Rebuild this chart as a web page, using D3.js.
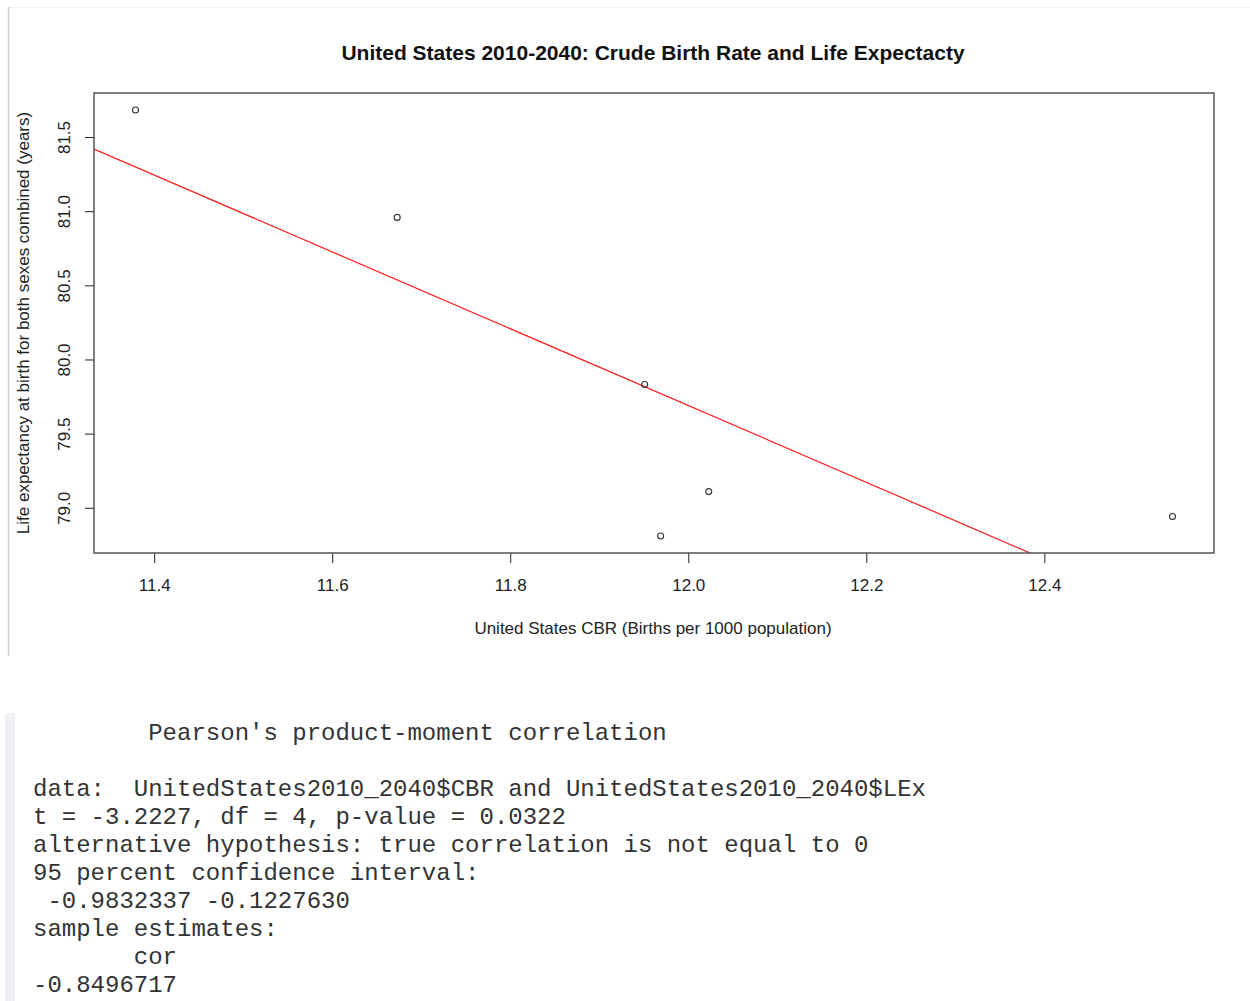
<!DOCTYPE html>
<html><head><meta charset="utf-8">
<script src="https://cdn.jsdelivr.net/npm/d3@7"></script>
<style>
html,body{margin:0;padding:0;background:#fff;}
svg{display:block;}
</style></head>
<body>
<script>
// ---- data ----
const cbr = [11.379, 11.673, 11.951, 12.023, 11.969, 12.544];   // United States CBR
const lex = [81.682, 80.958, 79.831, 79.109, 78.810, 78.941];   // Life expectancy
const xTicks = [11.4, 11.6, 11.8, 12.0, 12.2, 12.4];
const yTicks = [79.0, 79.5, 80.0, 80.5, 81.0, 81.5];
const title = "United States 2010-2040: Crude Birth Rate and Life Expectacty";
const xLabel = "United States CBR (Births per 1000 population)";
const yLabel = "Life expectancy at birth for both sexes combined (years)";
const consoleLines = [
  "        Pearson's product-moment correlation",
  "",
  "data:  UnitedStates2010_2040$CBR and UnitedStates2010_2040$LEx",
  "t = -3.2227, df = 4, p-value = 0.0322",
  "alternative hypothesis: true correlation is not equal to 0",
  "95 percent confidence interval:",
  " -0.9832337 -0.1227630",
  "sample estimates:",
  "       cor",
  "-0.8496717"
];

const W = 1250, H = 1001;
const svg = d3.select("body").append("svg").attr("width", W).attr("height", H);

// outer frame of plot image
svg.append("line").attr("x1", 9).attr("x2", W).attr("y1", 7.5).attr("y2", 7.5)
  .attr("stroke", "#f0f0f0").attr("stroke-width", 1);
svg.append("line").attr("x1", 8.5).attr("x2", 8.5).attr("y1", 7).attr("y2", 656)
  .attr("stroke", "#cfcfcf").attr("stroke-width", 1.5);

const L = 94, R = 1214, T = 93, B = 553;
// R-style 4% axis extension
function ext(a){ const lo=d3.min(a), hi=d3.max(a), d=(hi-lo)*0.04; return [lo-d, hi+d]; }
const x = d3.scaleLinear().domain(ext(cbr)).range([L, R]);
const y = d3.scaleLinear().domain(ext(lex)).range([B, T]);

const font = "'Liberation Sans', Arial, sans-serif";
const fs = 17;

// title
svg.append("text").attr("x", (L+R)/2 - 1).attr("y", 52).attr("text-anchor", "middle")
  .attr("dominant-baseline", "central")
  .attr("font-family", font).attr("font-weight", "bold").attr("font-size", 21)
  .attr("fill", "#111").text(title);

// x axis
const xAxis = svg.append("g").attr("transform", `translate(0,${B})`)
  .call(d3.axisBottom(x).tickValues(xTicks).tickFormat(d3.format(".1f")).tickSize(10));
xAxis.select(".domain").remove();
xAxis.selectAll("line").attr("stroke", "#222");
xAxis.selectAll("text").attr("font-family", font).attr("font-size", fs).attr("fill", "#222")
  .attr("y", 585 - B).attr("dy", null).attr("dominant-baseline", "central");

// y axis
const yAxis = svg.append("g").attr("transform", `translate(${L},0)`)
  .call(d3.axisLeft(y).tickValues(yTicks).tickFormat(d3.format(".1f")).tickSize(9));
yAxis.select(".domain").remove();
yAxis.selectAll("line").attr("stroke", "#222");
yAxis.selectAll("text")
  .attr("font-family", font).attr("font-size", fs).attr("fill", "#222")
  .attr("text-anchor", "middle").attr("dy", null).attr("x", null)
  .attr("dominant-baseline", "central")
  .attr("transform", `translate(${64-L},0) rotate(-90)`);

// axis titles
svg.append("text").attr("x", (L+R)/2 - 1).attr("y", 628).attr("text-anchor", "middle")
  .attr("dominant-baseline", "central")
  .attr("font-family", font).attr("font-size", fs).attr("fill", "#222").text(xLabel);
svg.append("text").attr("transform", `translate(23,${(T+B)/2}) rotate(-90)`)
  .attr("text-anchor", "middle").attr("dominant-baseline", "central")
  .attr("font-family", font).attr("font-size", fs).attr("fill", "#222").text(yLabel);

// clip for regression line
svg.append("clipPath").attr("id", "plotclip").append("rect")
  .attr("x", L).attr("y", T).attr("width", R-L).attr("height", B-T);

// least-squares regression line (abline(lm))
const mx = d3.mean(cbr), my = d3.mean(lex);
const sxy = d3.sum(cbr, (v,i) => (v-mx)*(lex[i]-my));
const sxx = d3.sum(cbr, v => (v-mx)*(v-mx));
const slope = sxy/sxx, icpt = my - slope*mx;
const [x0, x1] = x.domain();
svg.append("line").attr("clip-path", "url(#plotclip)")
  .attr("x1", x(x0)).attr("y1", y(icpt + slope*x0))
  .attr("x2", x(x1)).attr("y2", y(icpt + slope*x1))
  .attr("stroke", "#ff1a1a").attr("stroke-width", 1.2);

// points
svg.append("g").selectAll("circle").data(cbr).join("circle")
  .attr("cx", d => x(d)).attr("cy", (d,i) => y(lex[i])).attr("r", 3)
  .attr("fill", "none").attr("stroke", "#333").attr("stroke-width", 1.1);

// box
svg.append("rect").attr("x", L).attr("y", T).attr("width", R-L).attr("height", B-T)
  .attr("fill", "none").attr("stroke", "#555").attr("stroke-width", 1.5);

// console panel
svg.append("rect").attr("x", 5).attr("y", 713).attr("width", 10).attr("height", H-713)
  .attr("fill", "#eef0f3");
const mono = "'Liberation Mono', 'DejaVu Sans Mono', monospace";
svg.append("g").selectAll("text").data(consoleLines).join("text")
  .attr("x", 33).attr("y", (d,i) => 733 + i*28)
  .attr("dominant-baseline", "central")
  .attr("font-family", mono).attr("font-size", 24).attr("fill", "#333")
  .attr("xml:space", "preserve").style("white-space", "pre")
  .text(d => d);
</script>
</body></html>
